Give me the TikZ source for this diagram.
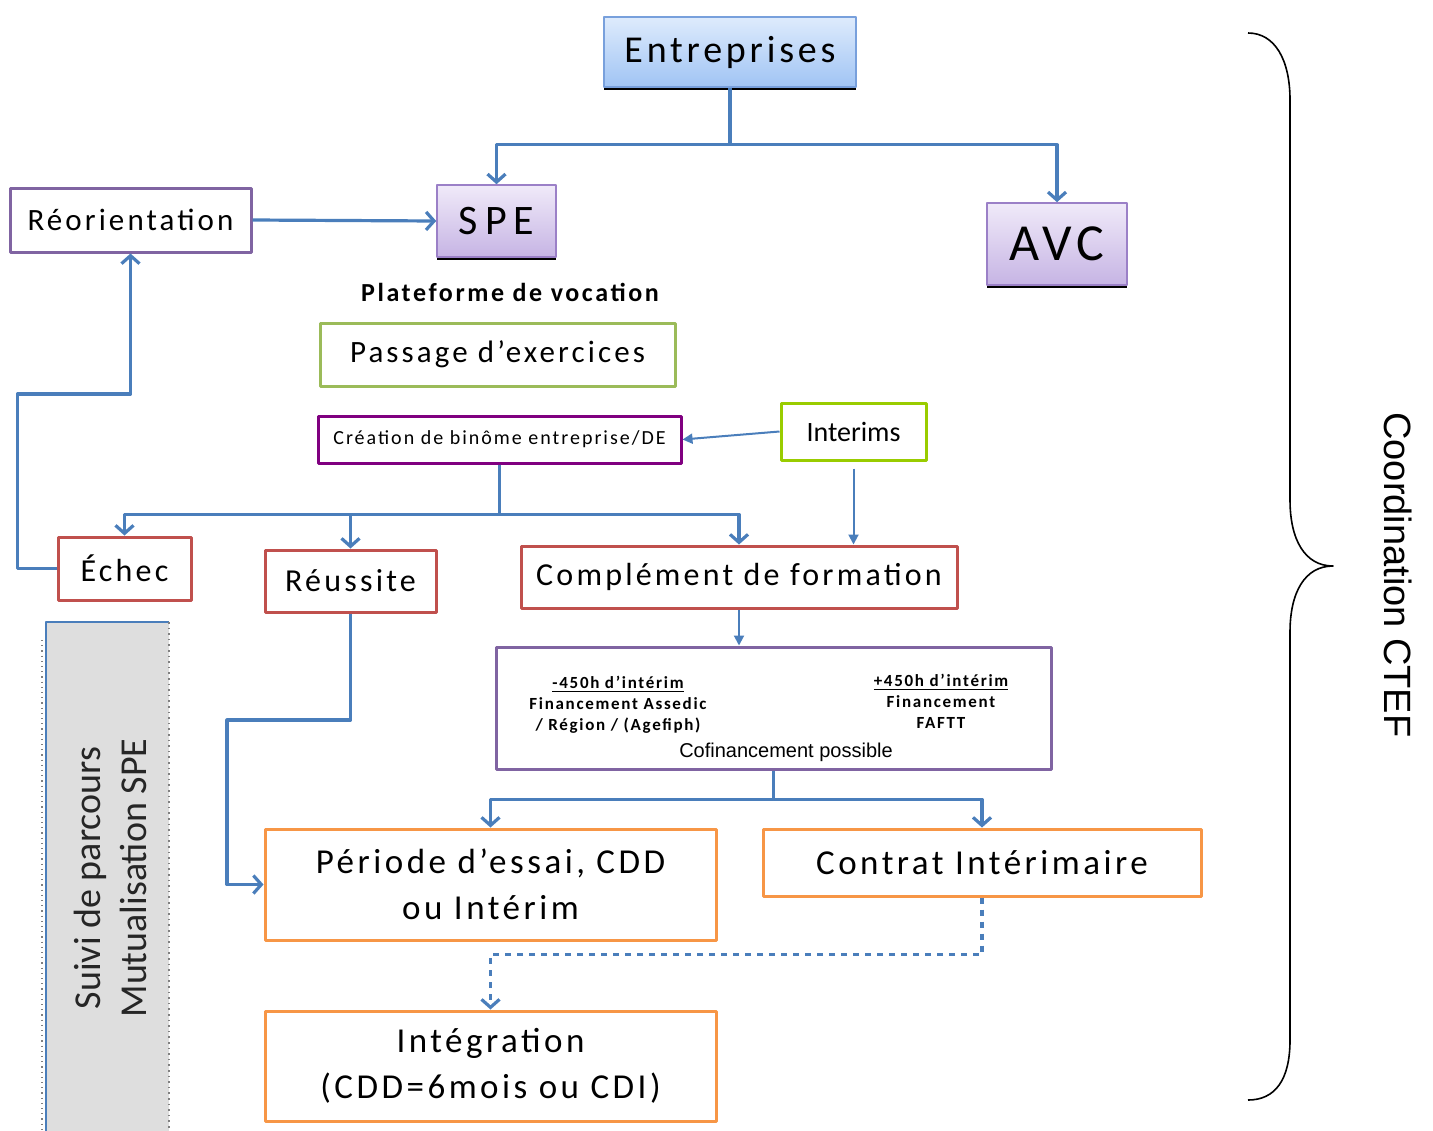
\documentclass[tikz,border=0pt]{standalone}
\usepackage{fontspec}
\setmainfont{Carlito}[LetterSpace=10]
\newfontfamily\carlito{Carlito}
\newfontfamily\arialfont{Liberation Sans}
\usetikzlibrary{arrows.meta,shadows}
\definecolor{lienbleu}{RGB}{74,126,187}
\definecolor{violet1}{RGB}{128,100,162}
\definecolor{violet2}{RGB}{128,0,128}
\definecolor{vert1}{RGB}{155,187,89}
\definecolor{vert2}{RGB}{153,204,0}
\definecolor{rouge1}{RGB}{192,80,77}
\definecolor{orange1}{RGB}{247,150,70}
\definecolor{bleuhaut}{RGB}{222,235,252}
\definecolor{bleubas}{RGB}{160,196,244}
\definecolor{bleubord}{RGB}{120,160,220}
\definecolor{lilashaut}{RGB}{240,234,249}
\definecolor{lilasbas}{RGB}{198,180,228}
\definecolor{lilasbord}{RGB}{155,128,199}
\tikzset{
	boite/.style={draw, line width=1.5pt, fill=white, inner sep=2pt, align=center},
	degrade/.style={draw, line width=0.8pt, inner sep=2pt,
		drop shadow={shadow xshift=0pt, shadow yshift=-1.5pt, opacity=1, fill=black}},
	lien/.style={draw=lienbleu, line width=1.6pt, -{Straight Barb[length=4pt,width=9pt]}},
	lienfin/.style={draw=lienbleu, line width=1pt, -{Triangle[length=5pt,width=5pt]}},
	petit/.style={font=\bfseries\fontsize{8.5}{10.5}\selectfont, align=center, inner sep=0pt},
}
\begin{document}
\begin{tikzpicture}[x=0.5pt, y=-0.5pt, line join=round]
	\useasboundingbox (0,0) rectangle (1433,1130);
	
	% bandeau de gauche
	\fill[black!13] (46,622) rectangle (169,1132);
	\draw[lienbleu, line width=1pt] (46,1132) -- (46,622) -- (169,622);
	\draw[gray, dotted, line width=0.8pt] (169,622) -- (169,1132);
	\draw[gray, dotted, line width=0.6pt] (42,640) -- (42,1130);
	\node[rotate=90, align=center, text=black!85, font=\carlito\fontsize{19}{23}\selectfont] (suivi) at (110,878) {Suivi de parcours\\Mutualisation SPE};
	
	% boites du haut
	\node[degrade, draw=bleubord, top color=bleuhaut, bottom color=bleubas,
		minimum width=126pt, minimum height=35pt, font=\fontsize{19}{22}\selectfont] (ent) at (730,52) {Entreprises};
	\node[degrade, draw=lilasbord, top color=lilashaut, bottom color=lilasbas,
		minimum width=59.5pt, minimum height=36pt, font=\fontsize{21}{24}\selectfont] (spe) at (496.5,221) {S\,P\,E};
	\node[degrade, draw=lilasbord, top color=lilashaut, bottom color=lilasbas,
		minimum width=70pt, minimum height=41pt, font=\fontsize{26}{30}\selectfont] (avc) at (1057,244) {AVC};
	\node[boite, draw=violet1, minimum width=120.5pt, minimum height=32pt, font=\fontsize{15.5}{18}\selectfont] (reo) at (130.5,220) {Réorientation};
	\node[font=\bfseries\fontsize{13}{16}\selectfont] (plat) at (510,292) {Plateforme de vocation};
	\node[boite, draw=vert1, minimum width=177.5pt, minimum height=31.5pt, font=\fontsize{15.5}{18}\selectfont] (pass) at (497.5,354.5) {Passage d’exercices};
	\node[boite, draw=violet2, minimum width=181.5pt, minimum height=23.5pt, font=\fontsize{10}{12}\selectfont] (crea) at (499.5,439.5) {Création de binôme entreprise/DE};
	\node[boite, draw=vert2, minimum width=72.5pt, minimum height=28.5pt, font=\carlito\fontsize{14}{16}\selectfont] (inter) at (853.5,431.5) {Interims};
	
	% issues
	\node[boite, draw=rouge1, minimum width=66.5pt, minimum height=31.5pt, font=\fontsize{16}{18}\selectfont] (echec) at (124.5,568.5) {Échec};
	\node[boite, draw=rouge1, minimum width=85.5pt, minimum height=31pt, font=\fontsize{16}{18}\selectfont] (reus) at (350.5,581) {Réussite};
	\node[boite, draw=rouge1, minimum width=218pt, minimum height=31pt, font=\fontsize{16}{19}\selectfont] (compl) at (739,577) {Complément de formation};
	
	% financement
	\node[boite, draw=violet1, minimum width=277.5pt, minimum height=61pt] (fin) at (773.5,708) {};
	\node[petit] (moins) at (618,705) {\underline{-450h d’intérim}\\Financement Assedic\\/ Région / (Agefiph)};
	\node[petit] (plus) at (941,701) {\underline{+450h d’intérim}\\Financement\\FAFTT};
	\node[font=\arialfont\fontsize{10}{12}\selectfont, inner sep=0pt] (cofin) at (786,752) {Cofinancement possible};
	
	% contrats
	\node[boite, draw=orange1, minimum width=225.5pt, minimum height=55.5pt, font=\fontsize{17.5}{23}\selectfont] (per) at (490.5,884.5) {Période d’essai, CDD\\ou Intérim};
	\node[boite, draw=orange1, minimum width=219pt, minimum height=33.5pt, font=\fontsize{17.5}{20}\selectfont] (contr) at (982,862.5) {Contrat Intérimaire};
	\node[boite, draw=orange1, minimum width=225.5pt, minimum height=55pt, font=\fontsize{17.5}{23}\selectfont] (integ) at (490.5,1066) {Intégration\\(CDD=6mois ou CDI)};
	
	% liens
	\draw[lien] (ent.south) -- ++(0,57) -| (spe.north);
	\draw[lien] (ent.south) -- ++(0,57) -| (avc.north);
	\draw[lien] (reo.east) -- (spe.west);
	\draw[lien] (echec.west) -- ++(-39,0) |- (reo.south |- 0,394) -- (reo.south);
	\draw[lien] (crea.south) -- ++(0,50) -| (echec.north);
	\draw[lien] (crea.south) -- ++(0,50) -| (reus.north);
	\draw[lien] (crea.south) -- ++(0,50) -| (compl.north);
	\draw[lienfin] (inter.west) -- (crea.east);
	\draw[lienfin] ([yshift=-3.5pt]inter.south) -- (compl.north -| inter.south);
	\draw[lienfin] (compl.south) -- (fin.north -| compl.south);
	\draw[lien] (fin.south) -- ++(0,29) -| (per.north);
	\draw[lien] (fin.south) -- ++(0,29) -| (contr.north);
	\draw[lien] (reus.south) |- (227,720) |- (per.west);
	\draw[lien, dashed] (contr.south) -- ++(0,57) -| (integ.north);
	
	% accolade
	\draw[line width=0.8pt] (1248,33) .. controls (1275,33) and (1290,60) .. (1290,100) -- (1290,500)
		.. controls (1290,540) and (1305,566) .. (1333,566)
		.. controls (1305,566) and (1290,592) .. (1290,632) -- (1290,1040)
		.. controls (1290,1080) and (1275,1100) .. (1248,1100);
	\node[rotate=-90, font=\arialfont\fontsize{19}{22}\selectfont] (coord) at (1398,575) {Coordination CTEF};
\end{tikzpicture}
\end{document}
